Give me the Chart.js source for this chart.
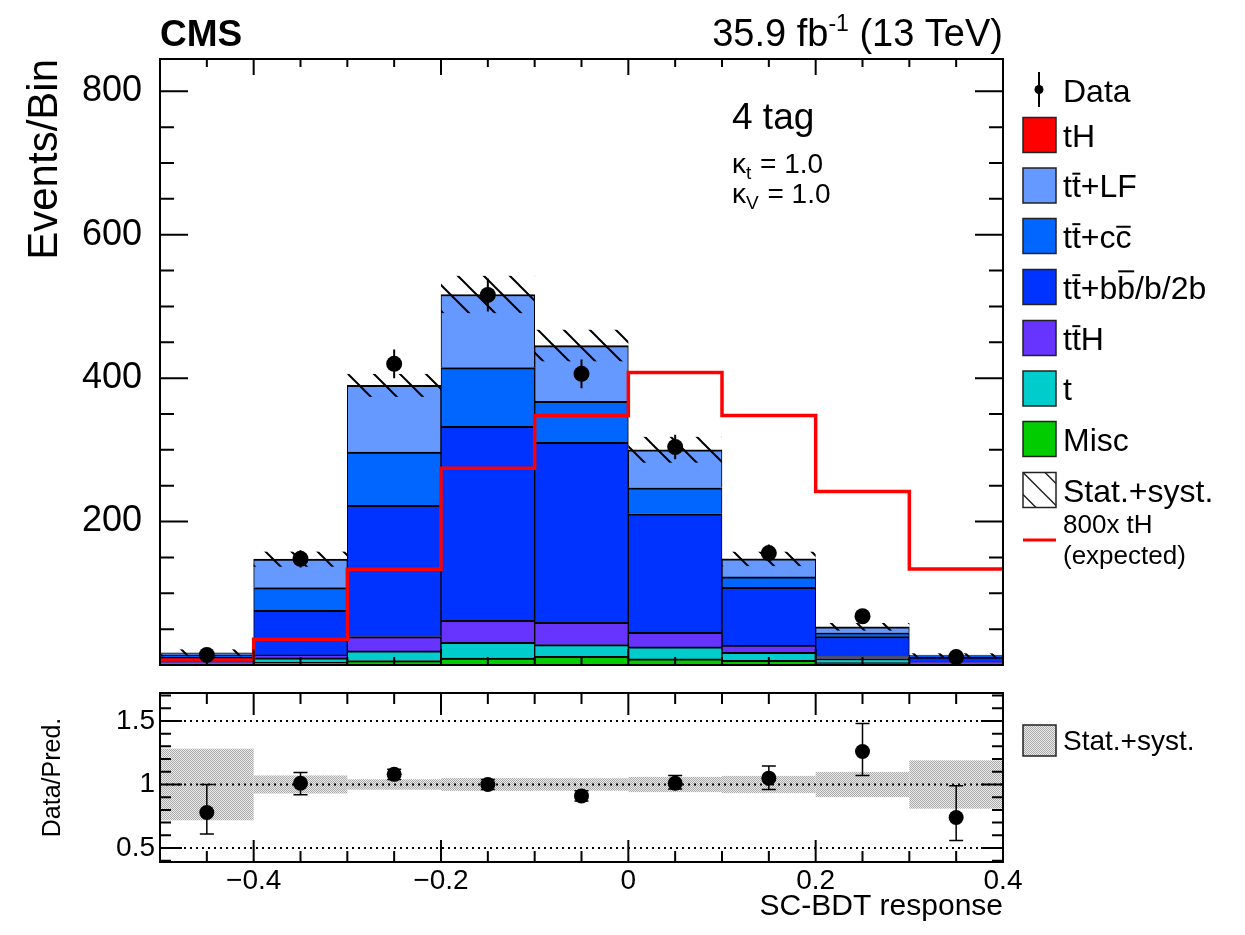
<!DOCTYPE html>
<html>
<head>
<meta charset="utf-8">
<script src="https://cdn.jsdelivr.net/npm/chart.js@4.4.0/dist/chart.umd.min.js"></script>
<style>
  body { margin: 0; background: #fff; width: 1245px; height: 935px; overflow: hidden; position: relative; }
  #main { position: absolute; left: 0; top: 0; }
  #ratio { position: absolute; left: 0; top: 680px; }
</style>
</head>
<body>
<canvas id="main" width="1245" height="680"></canvas>
<canvas id="ratio" width="1245" height="255"></canvas>
<script>
// --- values (9 bins of SC-BDT response) ---
const binEdges   = [-0.5, -0.4, -0.3, -0.2, -0.1, 0, 0.1, 0.2, 0.3, 0.4];
const binCenters = [-0.45, -0.35, -0.25, -0.15, -0.05, 0.05, 0.15, 0.25, 0.35];

const misc    = [1, 4, 6, 9.3, 11.6, 8, 6, 3, 1];
const tSingle = [2, 5.8, 13.5, 21.8, 16.3, 16.7, 11.2, 5.8, 1.5];
const ttH     = [2, 4.2, 20, 30.7, 31.1, 20.3, 10.3, 2.8, 1.5];
const ttbb    = [6, 62.3, 182.8, 270.7, 251.2, 165.3, 80.4, 27.9, 7];
const ttcc    = [3, 31.6, 74.5, 81.9, 57.2, 36.2, 14.5, 5.1, 1.5];
const ttLF    = [3, 39.6, 92.9, 101.9, 77.6, 53.1, 25.1, 8.4, 1];
const tH      = [0.01, 0.05, 0.17, 0.34, 0.43, 0.51, 0.43, 0.3, 0.17];
const tHx800  = [7, 36, 133.5, 274.5, 348, 408, 348, 242, 134];

const dataVals = [14, 148, 420, 516, 406, 304, 156, 68, 11];
const dataErr  = [4, 12, 20, 23, 20, 17, 12, 8, 3];
const predUnc  = [4.8, 10.5, 16, 26, 22, 18, 10, 5.3, 2.6];

const ratioVals = [0.78, 1.01, 1.08, 1.0, 0.91, 1.01, 1.05, 1.26, 0.74];
const ratioLo   = [0.61, 0.92, 1.04, 0.96, 0.87, 0.965, 0.96, 1.07, 0.56];
const ratioHi   = [1.0, 1.095, 1.12, 1.04, 0.95, 1.07, 1.145, 1.48, 0.99];

const mainYTicks  = [200, 400, 600, 800];
const ratioYTicks = [0.5, 1, 1.5];
const xTicks      = [-0.4, -0.2, 0, 0.2, 0.4];

const FONT = "'Liberation Sans', Arial, Helvetica, sans-serif";
Chart.defaults.font.family = FONT;
Chart.defaults.color = '#000';

const stackTotal = binCenters.map((_, i) =>
  misc[i] + tSingle[i] + ttH[i] + ttbb[i] + ttcc[i] + ttLF[i] + tH[i]);

const pts = arr => binCenters.map((c, i) => ({ x: c, y: arr[i] }));
const minusFmt = v => (v < 0 ? '\u2212' + Math.abs(v) : String(v));
const noPadV = w => s => { s.width = w; s.paddingTop = 0; s.paddingBottom = 0; };
const noPadH = h => s => { s.height = h; s.paddingLeft = 0; s.paddingRight = 0; };

// frame + inward ROOT-style ticks on all four sides
const frameTicks = {
  id: 'frameTicks',
  afterDraw(chart, args, o) {
    const { ctx, chartArea: a, scales: { x, y } } = chart;
    ctx.save();
    ctx.strokeStyle = '#000';
    ctx.lineWidth = 2;
    ctx.strokeRect(a.left, a.top, a.right - a.left, a.bottom - a.top);
    ctx.beginPath();
    const nx = Math.round((x.max - x.min) / o.xStep);
    for (let i = 0; i <= nx; i++) {
      const v = x.min + i * o.xStep;
      const major = Math.abs(v / o.xMajor - Math.round(v / o.xMajor)) < 1e-6;
      const len = major ? o.xLen[0] : o.xLen[1];
      const px = x.getPixelForValue(v);
      ctx.moveTo(px, a.bottom); ctx.lineTo(px, a.bottom - len);
      ctx.moveTo(px, a.top); ctx.lineTo(px, a.top + len);
    }
    const y0 = Math.ceil(y.min / o.yStep - 1e-6);
    const y1 = Math.floor(y.max / o.yStep + 1e-6);
    for (let k = y0; k <= y1; k++) {
      const v = k * o.yStep;
      const major = Math.abs(v / o.yMajor - Math.round(v / o.yMajor)) < 1e-6;
      const len = major ? o.yLen[0] : o.yLen[1];
      const py = y.getPixelForValue(v);
      ctx.moveTo(a.left, py); ctx.lineTo(a.left + len, py);
      ctx.moveTo(a.right, py); ctx.lineTo(a.right - len, py);
    }
    ctx.stroke();
    ctx.restore();
  }
};

function hatch(ctx) {
  const c = document.createElement('canvas');
  c.width = 26; c.height = 26;
  const g = c.getContext('2d');
  g.strokeStyle = '#000';
  g.lineWidth = 2;
  g.beginPath();
  g.moveTo(-2, -2); g.lineTo(28, 28);
  g.moveTo(24, -2); g.lineTo(28, 2);
  g.moveTo(-2, 24); g.lineTo(2, 28);
  g.stroke();
  return ctx.createPattern(c, 'repeat');
}

function greyDots(ctx) {
  const c = document.createElement('canvas');
  c.width = 2; c.height = 2;
  const g = c.getContext('2d');
  g.fillStyle = '#ebebeb'; g.fillRect(0, 0, 2, 2);
  g.fillStyle = '#aaaaaa'; g.fillRect(0, 0, 1, 1); g.fillRect(1, 1, 1, 1);
  return ctx.createPattern(c, 'repeat');
}

function drawParts(ctx, parts, x, y, size) {
  ctx.font = size + 'px ' + FONT;
  ctx.textAlign = 'left';
  ctx.textBaseline = 'alphabetic';
  for (const [txt, bar] of parts) {
    const w = ctx.measureText(txt).width;
    ctx.fillText(txt, x, y);
    if (bar) ctx.fillRect(x + w * 0.05, y - size * bar, w * 0.9, 2);
    x += w;
  }
}

// uncertainty hatch on the stack, drawn before the red line
const mainBand = {
  id: 'mainBand',
  beforeDatasetDraw(chart, args) {
    if (chart.data.datasets[args.index].label !== '800x tH (expected)') return;
    const { ctx, scales: { x, y } } = chart;
    ctx.save();
    ctx.fillStyle = hatch(ctx);
    binCenters.forEach((c, i) => {
      const l = x.getPixelForValue(binEdges[i]);
      const r = x.getPixelForValue(binEdges[i + 1]);
      const t = y.getPixelForValue(stackTotal[i] + predUnc[i]);
      const b = y.getPixelForValue(stackTotal[i] - predUnc[i]);
      ctx.fillRect(l, t, r - l, b - t);
    });
    ctx.restore();
  },
  afterDatasetsDraw(chart) {
    const { ctx, scales: { x, y } } = chart;
    ctx.save();
    ctx.strokeStyle = '#000';
    ctx.lineWidth = 2;
    ctx.beginPath();
    dataVals.forEach((v, i) => {
      const px = x.getPixelForValue(binCenters[i]);
      ctx.moveTo(px, y.getPixelForValue(v - dataErr[i]));
      ctx.lineTo(px, y.getPixelForValue(v + dataErr[i]));
    });
    ctx.stroke();
    ctx.restore();
  }
};

const legendItems = [
  { color: '#ff0000', parts: [['tH']] },
  { color: '#6699ff', parts: [['t'], ['t', 0.76], ['+LF']] },
  { color: '#0066ff', parts: [['t'], ['t', 0.76], ['+c'], ['c', 0.68]] },
  { color: '#0033ff', parts: [['t'], ['t', 0.76], ['+b'], ['b', 0.88], ['/b/2b']] },
  { color: '#6633ff', parts: [['t'], ['t', 0.76], ['H']] },
  { color: '#00cccc', parts: [['t']] },
  { color: '#00cc00', parts: [['Misc']] },
  { color: 'hatch', parts: [['Stat.+syst.']] }
];

const mainText = {
  id: 'mainText',
  afterDraw(chart) {
    const ctx = chart.ctx;
    ctx.save();
    ctx.fillStyle = '#000';
    ctx.textBaseline = 'alphabetic';
    ctx.textAlign = 'left';
    ctx.font = 'bold 37px ' + FONT;
    ctx.fillText('CMS', 160, 46);

    ctx.font = '38px ' + FONT;
    const w1 = ctx.measureText('35.9 fb').width;
    const w3 = ctx.measureText(' (13 TeV)').width;
    ctx.font = '23px ' + FONT;
    const w2 = ctx.measureText('-1').width;
    const x0 = 1003 - (w1 + w2 + w3);
    ctx.font = '38px ' + FONT;
    ctx.fillText('35.9 fb', x0, 46);
    ctx.fillText(' (13 TeV)', x0 + w1 + w2, 46);
    ctx.font = '23px ' + FONT;
    ctx.fillText('-1', x0 + w1, 31);

    ctx.font = '37px ' + FONT;
    ctx.fillText('4 tag', 732, 129);
    [['t', 173], ['V', 203]].forEach(([sub, by]) => {
      ctx.font = '28px ' + FONT;
      ctx.fillText('\u03ba', 732, by);
      const wk = ctx.measureText('\u03ba').width;
      ctx.font = '19px ' + FONT;
      ctx.fillText(sub, 732 + wk, by + 6);
      const ws = ctx.measureText(sub).width;
      ctx.font = '28px ' + FONT;
      ctx.fillText(' = 1.0', 732 + wk + ws + 1, by);
    });

    // legend
    const bx = 1023, bw = 33, bh = 35, tx = 1063;
    ctx.strokeStyle = '#000';
    ctx.lineWidth = 2;
    ctx.beginPath();
    ctx.moveTo(1039, 72); ctx.lineTo(1039, 107);
    ctx.stroke();
    ctx.beginPath();
    ctx.arc(1039, 89.5, 4.5, 0, Math.PI * 2);
    ctx.fill();
    drawParts(ctx, [['Data']], tx, 102, 32);

    const centers = [135, 185.5, 236, 287, 338, 388.5, 439, 490];
    legendItems.forEach((it, i) => {
      const cy = centers[i];
      const top = cy - bh / 2;
      if (it.color === 'hatch') {
        ctx.fillStyle = '#fff';
        ctx.fillRect(bx, top, bw, bh);
        ctx.save();
        ctx.beginPath(); ctx.rect(bx, top, bw, bh); ctx.clip();
        ctx.beginPath();
        [-22, 0, 22].forEach(o => { ctx.moveTo(bx + o, top); ctx.lineTo(bx + o + bh, top + bh); });
        ctx.lineWidth = 1.5;
        ctx.stroke();
        ctx.restore();
      } else {
        ctx.fillStyle = it.color;
        ctx.fillRect(bx, top, bw, bh);
      }
      ctx.lineWidth = 1.5;
      ctx.strokeStyle = '#222';
      ctx.strokeRect(bx, top, bw, bh);
      ctx.fillStyle = '#000';
      drawParts(ctx, it.parts, tx, cy + 11.5, 32);
    });

    ctx.strokeStyle = '#ff0000';
    ctx.lineWidth = 3;
    ctx.beginPath(); ctx.moveTo(bx, 540); ctx.lineTo(bx + bw, 540); ctx.stroke();
    ctx.fillStyle = '#000';
    drawParts(ctx, [['800x tH']], tx, 533, 26);
    drawParts(ctx, [['(expected)']], tx, 564, 26);
    ctx.restore();
  }
};

const barSet = (label, arr, color, bw) => ({
  type: 'bar', label, data: pts(arr), backgroundColor: color,
  borderColor: '#000', borderWidth: bw, order: 3,
  barPercentage: 1, categoryPercentage: 1
});
const edgeBorder = { top: 2, left: 1, right: 1, bottom: 0 };

new Chart(document.getElementById('main'), {
  type: 'bar',
  data: {
    datasets: [
      barSet('tH', tH, '#ff0000', 0),
      barSet('Misc', misc, '#00cc00', edgeBorder),
      barSet('t', tSingle, '#00cccc', edgeBorder),
      barSet('ttH', ttH, '#6633ff', edgeBorder),
      barSet('tt+bb/b/2b', ttbb, '#0033ff', edgeBorder),
      barSet('tt+cc', ttcc, '#0066ff', edgeBorder),
      barSet('tt+LF', ttLF, '#6699ff', edgeBorder),
      {
        type: 'line', label: '800x tH (expected)', stack: 'sig', order: 2,
        data: binEdges.map((e, i) => ({ x: e, y: tHx800[Math.min(i, tHx800.length - 1)] })),
        stepped: true, borderColor: '#ff0000', borderWidth: 3.5, pointRadius: 0, fill: false
      },
      {
        type: 'line', label: 'Data', stack: 'obs', order: 1, data: pts(dataVals),
        showLine: false, pointRadius: 8, pointBackgroundColor: '#000', pointBorderWidth: 0
      }
    ]
  },
  options: {
    responsive: false,
    animation: false,
    devicePixelRatio: 1,
    layout: { padding: { left: 0, right: 242, top: 59, bottom: 0 } },
    plugins: {
      legend: { display: false },
      tooltip: { enabled: false },
      frameTicks: { xStep: 0.05, xMajor: 0.2, xLen: [16, 8], yStep: 50, yMajor: 200, yLen: [28, 14] }
    },
    scales: {
      x: {
        type: 'linear', min: -0.5, max: 0.4, offset: false, stacked: true,
        grid: { display: false, offset: false }, border: { display: false },
        ticks: { display: false },
        afterBuildTicks: s => { s.ticks = xTicks.map(v => ({ value: v })); },
        afterFit: noPadH(15)
      },
      y: {
        stacked: true, min: 0, max: 845,
        grid: { display: false, drawTicks: false }, border: { display: false },
        ticks: { font: { size: 36 }, padding: 18 },
        afterBuildTicks: s => { s.ticks = mainYTicks.map(v => ({ value: v })); },
        afterFit: noPadV(160),
        title: { display: true, text: 'Events/Bin', align: 'end', font: { size: 42 }, padding: { top: 20, bottom: 0 } }
      }
    }
  },
  plugins: [mainBand, frameTicks, mainText]
});

// ratio panel
const ratioBand = {
  id: 'ratioBand',
  beforeDatasetsDraw(chart) {
    const { ctx, chartArea: a, scales: { x, y } } = chart;
    ctx.save();
    ctx.fillStyle = greyDots(ctx);
    binCenters.forEach((c, i) => {
      const rel = predUnc[i] / stackTotal[i];
      const l = x.getPixelForValue(binEdges[i]);
      const r = x.getPixelForValue(binEdges[i + 1]);
      const t = y.getPixelForValue(1 + rel);
      const b = y.getPixelForValue(1 - rel);
      ctx.fillRect(l, t, r - l, b - t);
    });
    ctx.strokeStyle = '#000';
    ctx.lineWidth = 2;
    ctx.setLineDash([2, 4]);
    ctx.beginPath();
    ratioYTicks.forEach(v => {
      const py = y.getPixelForValue(v);
      ctx.moveTo(a.left, py); ctx.lineTo(a.right, py);
    });
    ctx.stroke();
    ctx.setLineDash([]);
    ctx.lineWidth = 1.5;
    ctx.beginPath();
    ratioVals.forEach((v, i) => {
      const px = x.getPixelForValue(binCenters[i]);
      const lo = y.getPixelForValue(ratioLo[i]);
      const hi = y.getPixelForValue(ratioHi[i]);
      ctx.moveTo(px, lo); ctx.lineTo(px, hi);
      ctx.moveTo(px - 7, lo); ctx.lineTo(px + 7, lo);
      ctx.moveTo(px - 7, hi); ctx.lineTo(px + 7, hi);
    });
    ctx.stroke();
    ctx.restore();
  },
  afterDraw(chart) {
    const ctx = chart.ctx;
    ctx.save();
    ctx.fillStyle = greyDots(ctx);
    ctx.fillRect(1023, 45, 33, 31);
    ctx.strokeStyle = '#222';
    ctx.lineWidth = 1.5;
    ctx.strokeRect(1023, 45, 33, 31);
    ctx.fillStyle = '#000';
    drawParts(ctx, [['Stat.+syst.']], 1063, 70, 28);
    ctx.restore();
  }
};

new Chart(document.getElementById('ratio'), {
  type: 'line',
  data: {
    datasets: [{
      label: 'Data/Pred.', data: pts(ratioVals), showLine: false,
      pointRadius: 7.5, pointBackgroundColor: '#000', pointBorderWidth: 0
    }]
  },
  options: {
    responsive: false,
    animation: false,
    devicePixelRatio: 1,
    layout: { padding: { left: 0, right: 242, top: 13, bottom: 0 } },
    plugins: {
      legend: { display: false },
      tooltip: { enabled: false },
      frameTicks: { xStep: 0.05, xMajor: 0.2, xLen: [22, 11], yStep: 0.1, yMajor: 0.5, yLen: [22, 11] }
    },
    scales: {
      x: {
        type: 'linear', min: -0.5, max: 0.4,
        grid: { display: false, drawTicks: false }, border: { display: false },
        ticks: { font: { size: 28 }, padding: 2, maxRotation: 0, autoSkip: false, callback: minusFmt },
        afterBuildTicks: s => { s.ticks = xTicks.map(v => ({ value: v })); },
        afterFit: noPadH(73),
        title: { display: true, text: 'SC-BDT response', align: 'end', font: { size: 30 }, padding: { top: 0, bottom: 10 } }
      },
      y: {
        min: 0.39, max: 1.72,
        grid: { display: false, drawTicks: false }, border: { display: false },
        ticks: { font: { size: 28 }, padding: 5, callback: v => String(v) },
        afterBuildTicks: s => { s.ticks = ratioYTicks.map(v => ({ value: v })); },
        afterFit: noPadV(160),
        title: { display: true, text: 'Data/Pred.', align: 'center', font: { size: 25 }, padding: { top: 38, bottom: 0 } }
      }
    }
  },
  plugins: [ratioBand, frameTicks]
});
</script>
</body>
</html>
